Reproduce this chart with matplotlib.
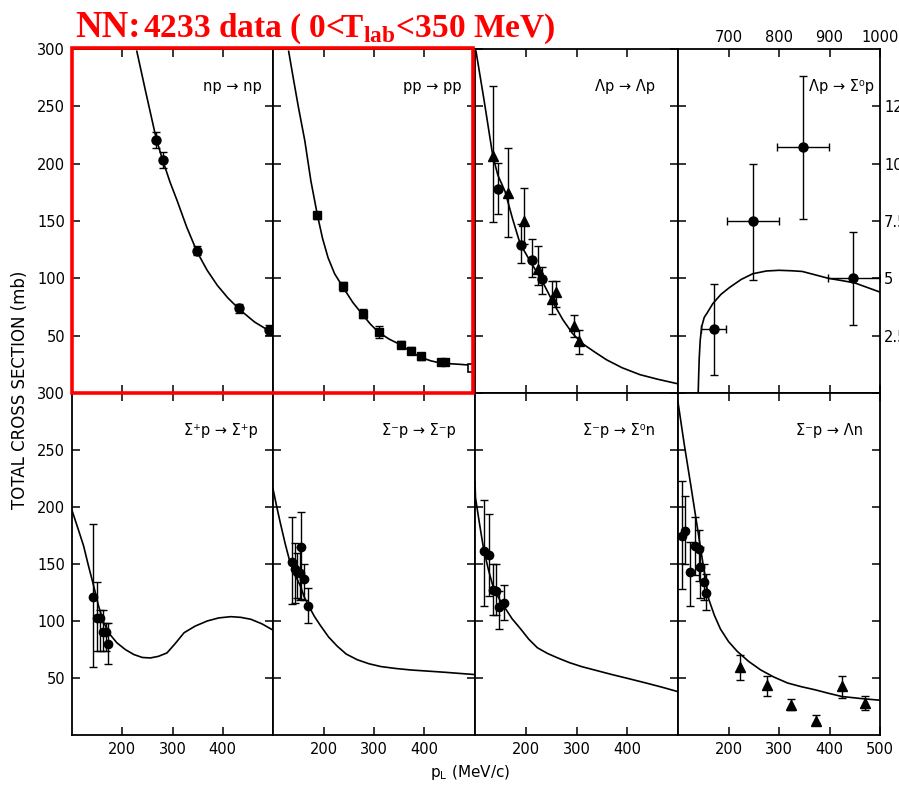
import matplotlib
matplotlib.use('Agg')
import matplotlib.pyplot as plt
from matplotlib.patches import Rectangle

plt.rcParams['mathtext.fontset'] = 'custom'
plt.rcParams['mathtext.bf'] = 'Liberation Serif:bold'
plt.rcParams['mathtext.rm'] = 'Liberation Serif:bold'

# ---- np -> np ----
np_curve_p = [229, 246, 268, 282, 295, 309, 328, 349, 369, 389, 410, 433, 463, 493, 500]
np_curve_s = [298, 264, 221, 201, 184, 168, 145, 123, 107, 94, 83, 73, 62, 54, 52]
np_data_p = [268, 282, 349, 433, 493]
np_data_s = [221, 203, 124, 74, 55]
np_data_e = [7, 7, 4, 4, 4]

# ---- pp -> pp ----
pp_curve_p = [131, 140, 150, 163, 175, 188, 198, 209, 222, 239, 258, 278, 293, 309,
              330, 353, 373, 393, 413, 433, 470, 500]
pp_curve_s = [298, 275, 250, 220, 185, 155, 135, 118, 104, 92, 79, 68, 60, 53,
              47, 42, 36, 31, 28, 26, 25, 24]
pp_data_p = [188, 239, 278, 309, 353, 373, 393, 433, 441]
pp_data_s = [155, 93, 69, 53, 42, 37, 32, 27, 27]
pp_data_e = [3, 4, 4, 5, 3, 3, 3, 2, 2]
pp_open_p = [495]
pp_open_s = [22]

# ---- Lambda p -> Lambda p ----
lp_curve_p = [102, 118, 135, 145, 159, 174, 189, 210, 232, 255, 273, 292, 312, 335,
              359, 390, 425, 460, 500]
lp_curve_s = [298, 255, 207, 190, 176, 152, 130, 114, 98, 78, 64, 52, 43, 36,
              29, 22, 16, 12, 8]
lp_tri_p = [135, 165, 197, 225, 252, 260, 295, 304]
lp_tri_s = [207, 174, 150, 108, 82, 88, 58, 45]
lp_tri_lo = [149, 136, 130, 94, 69, 75, 49, 34]
lp_tri_hi = [268, 214, 179, 128, 98, 98, 68, 55]
lp_dot_p = [145, 190, 212, 232]
lp_dot_s = [178, 129, 116, 99]
lp_dot_lo = [156, 113, 101, 86]
lp_dot_hi = [201, 147, 134, 110]

# ---- Lambda p -> Sigma0 p (upper momentum scale, right-hand mb scale) ----
ls_curve_p = [640, 641, 642, 644, 647, 652, 658, 669, 685, 702, 725, 748, 775, 800,
              825, 846, 872, 898, 925, 950, 975, 1000]
ls_curve_s = [0, 0.8, 1.5, 2.3, 2.9, 3.3, 3.5, 3.9, 4.3, 4.6, 4.95, 5.2, 5.32, 5.35,
              5.33, 5.3, 5.15, 5.0, 4.9, 4.8, 4.6, 4.4]
ls_data_p = [671, 748, 848, 947]
ls_data_s = [2.77, 7.48, 10.74, 5.0]
ls_data_lo = [0.78, 4.94, 7.6, 2.96]
ls_data_hi = [4.77, 10.0, 13.83, 7.0]
ls_data_plo = [646, 697, 797, 898]
ls_data_phi = [695, 800, 899, 1000]

# ---- Sigma+ p -> Sigma+ p ----
spp_curve_p = [100, 112, 123, 133, 143, 153, 163, 176, 189, 206, 223, 240, 256, 272,
               289, 305, 323, 345, 369, 392, 416, 436, 456, 478, 500]
spp_curve_s = [197, 181, 166, 148, 131, 113, 98.5, 88, 81, 75, 70.6, 68, 67.6, 69,
               72, 80, 89.7, 95.5, 100, 102.7, 103.8, 103.2, 101.5, 97.5, 92]
spp_data_p = [141, 150, 156, 161, 167, 172]
spp_data_s = [121, 103, 103, 90, 90, 80]
spp_data_lo = [60, 74, 74, 74, 74, 62]
spp_data_hi = [185, 134, 110, 110, 98, 98]

# ---- Sigma- p -> Sigma- p ----
smm_curve_p = [100, 107, 114, 124, 134, 144, 154, 162, 171, 182, 194, 210, 227, 245,
               267, 290, 314, 344, 374, 408, 441, 470, 500]
smm_curve_s = [216, 201, 187, 168, 151, 140, 131, 121, 113, 104, 96, 86, 78, 71,
               66, 62.5, 60, 58.3, 57, 56, 55, 54, 53]
smm_data_p = [137, 144, 147, 153, 156, 161, 169]
smm_data_s = [152, 146, 143, 142, 165, 137, 113]
smm_data_lo = [115, 116, 120, 118, 119, 118, 98]
smm_data_hi = [191, 168, 160, 165, 196, 150, 129]

# ---- Sigma- p -> Sigma0 n ----
smz_curve_p = [100, 101, 109, 117, 127, 137, 147, 157, 173, 190, 206, 223, 243, 263,
               286, 310, 340, 370, 404, 437, 468, 500]
smz_curve_s = [222, 208, 185, 163, 144, 128, 120, 113, 102, 93, 84, 76.5, 71.5, 67.6,
               63.5, 60, 56.5, 53, 49.3, 45.6, 42, 38]
smz_data_p = [117, 127, 135, 142, 147, 157]
smz_data_s = [161, 158, 127, 126, 112, 116]
smz_data_lo = [113, 122, 105, 105, 93, 101]
smz_data_hi = [206, 194, 150, 150, 126, 132]

# ---- Sigma- p -> Lambda n ----
sml_curve_p = [100, 112, 125, 138, 151, 161, 172, 184, 200, 217, 240, 264, 290, 317,
               344, 371, 398, 424, 462, 500]
sml_curve_s = [292, 256, 220, 183, 146, 119, 105, 93, 82, 73.5, 64.5, 57, 50.8, 45.6,
               42.4, 39.7, 36.6, 33.8, 32, 30.5]
sml_dot_p = [107, 114, 124, 134, 141, 144, 151, 156]
sml_dot_s = [175, 179, 143, 166, 163, 147, 134, 125]
sml_dot_lo = [128, 150, 113, 140, 135, 120, 118, 110]
sml_dot_hi = [223, 210, 169, 191, 180, 165, 150, 141]
sml_tri_p = [222, 276, 324, 373, 424, 471]
sml_tri_s = [60, 44, 26.5, 12.6, 42.6, 28]
sml_tri_lo = [48.5, 34, 22, 10.3, 32.4, 22]
sml_tri_hi = [70.6, 52, 31.5, 17.6, 51.5, 34.4]

panel_labels = ["np → np", "pp → pp", "Λp → Λp", "Λp → Σ⁰p",
                "Σ⁺p → Σ⁺p", "Σ⁻p → Σ⁻p", "Σ⁻p → Σ⁰n", "Σ⁻p → Λn"]
sigma_ticks = [50, 100, 150, 200, 250, 300]
p_ticks = [200, 300, 400]
upper_p_ticks = [700, 800, 900, 1000]
mb_ticks = [2.5, 5, 7.5, 10, 12.5]

W, H = 899, 787
col_edges = [72, 273, 475, 678, 880]
row_edges = [49, 393, 735]

fig = plt.figure(figsize=(W / 100, H / 100), dpi=100)


def panel(col, row):
    x0, x1 = col_edges[col], col_edges[col + 1]
    y0, y1 = row_edges[row], row_edges[row + 1]
    ax = fig.add_axes([x0 / W, 1 - y1 / H, (x1 - x0) / W, (y1 - y0) / H])
    for s in ax.spines.values():
        s.set_linewidth(1.3)
    ax.tick_params(direction='in', length=6, width=1.1, top=True, right=True,
                   labelsize=10.5, pad=5)
    ax.set_xlim(100, 500)
    ax.set_ylim(0, 300)
    ax.set_xticks(p_ticks)
    ax.set_yticks(sigma_ticks)
    ax.tick_params(labelbottom=(row == 1), labelleft=(col == 0))
    return ax


def curve(ax, p, s):
    ax.plot(p, s, color='black', lw=1.2, zorder=2)


def points(ax, p, s, lo, hi, marker='o', ms=6):
    yerr = [[v - l for v, l in zip(s, lo)], [h - v for v, h in zip(s, hi)]]
    ax.errorbar(p, s, yerr=yerr, fmt=marker, color='black', ms=ms,
                elinewidth=1, capsize=3, capthick=1, zorder=3)


axes = []
for row in range(2):
    for col in range(4):
        axes.append(panel(col, row))

# np -> np
ax = axes[0]
curve(ax, np_curve_p, np_curve_s)
points(ax, np_data_p, np_data_s,
       [v - e for v, e in zip(np_data_s, np_data_e)],
       [v + e for v, e in zip(np_data_s, np_data_e)], ms=6.5)

# pp -> pp
ax = axes[1]
curve(ax, pp_curve_p, pp_curve_s)
points(ax, pp_data_p, pp_data_s,
       [v - e for v, e in zip(pp_data_s, pp_data_e)],
       [v + e for v, e in zip(pp_data_s, pp_data_e)], marker='s', ms=6)
ax.plot(pp_open_p, pp_open_s, 's', mfc='white', mec='black', ms=6, mew=1.2, zorder=3)

# Lambda p -> Lambda p
ax = axes[2]
curve(ax, lp_curve_p, lp_curve_s)
points(ax, lp_tri_p, lp_tri_s, lp_tri_lo, lp_tri_hi, marker='^', ms=7)
points(ax, lp_dot_p, lp_dot_s, lp_dot_lo, lp_dot_hi, marker='o', ms=6.5)

# Lambda p -> Sigma0 p
ax = axes[3]
ax.set_xlim(600, 1000)
ax.set_ylim(0, 15)
ax.set_xticks(upper_p_ticks)
ax.set_xticklabels([str(t) for t in upper_p_ticks])
ax.set_yticks(mb_ticks)
ax.set_yticklabels([f"{t:g}" for t in mb_ticks])
ax.tick_params(labeltop=True, labelbottom=False, labelright=True, labelleft=False, pad=3)
curve(ax, ls_curve_p, ls_curve_s)
ax.errorbar(ls_data_p, ls_data_s,
            yerr=[[v - l for v, l in zip(ls_data_s, ls_data_lo)],
                  [h - v for v, h in zip(ls_data_s, ls_data_hi)]],
            xerr=[[v - l for v, l in zip(ls_data_p, ls_data_plo)],
                  [h - v for v, h in zip(ls_data_p, ls_data_phi)]],
            fmt='o', color='black', ms=6.5, elinewidth=1, capsize=3, capthick=1, zorder=3)

# Sigma+ p -> Sigma+ p
ax = axes[4]
curve(ax, spp_curve_p, spp_curve_s)
points(ax, spp_data_p, spp_data_s, spp_data_lo, spp_data_hi)

# Sigma- p -> Sigma- p
ax = axes[5]
curve(ax, smm_curve_p, smm_curve_s)
points(ax, smm_data_p, smm_data_s, smm_data_lo, smm_data_hi)

# Sigma- p -> Sigma0 n
ax = axes[6]
curve(ax, smz_curve_p, smz_curve_s)
points(ax, smz_data_p, smz_data_s, smz_data_lo, smz_data_hi)

# Sigma- p -> Lambda n
ax = axes[7]
ax.set_xticks(p_ticks + [500])
curve(ax, sml_curve_p, sml_curve_s)
points(ax, sml_dot_p, sml_dot_s, sml_dot_lo, sml_dot_hi)
points(ax, sml_tri_p, sml_tri_s, sml_tri_lo, sml_tri_hi, marker='^', ms=7)

label_x = [0.80, 0.79, 0.74, 0.81, 0.74, 0.72, 0.71, 0.75]
for ax, lab, lx in zip(axes, panel_labels, label_x):
    ax.text(lx, 0.89, lab, transform=ax.transAxes, ha='center', va='center',
            fontsize=10.5)

fig.text(20 / W, 1 - 390 / H, "TOTAL CROSS SECTION (mb)", rotation=90,
         ha='center', va='center', fontsize=12)
fig.text(470 / W, 1 - 772 / H, r"p$_\mathregular{L}$ (MeV/c)", ha='center', va='center',
         fontsize=11)

# highlight box around the two nucleon-nucleon panels
fig.patches.append(Rectangle((72 / W, 1 - 393 / H), (473 - 72) / W, (393 - 48) / H,
                             transform=fig.transFigure, fill=False, edgecolor='#ff0000',
                             linewidth=2.6, zorder=10))

fig.text(75 / W, 1 - 37 / H, "NN:", color='#ff0000', fontsize=26.5,
         family='Liberation Serif', weight='bold', ha='left', va='baseline')
fig.text(143 / W, 1 - 37 / H, r"4233 data ( 0<T$_\mathbf{lab}$<350 MeV)",
         color='#ff0000', fontsize=24, family='Liberation Serif', weight='bold',
         ha='left', va='baseline')

fig.savefig('out.png', dpi=100)
